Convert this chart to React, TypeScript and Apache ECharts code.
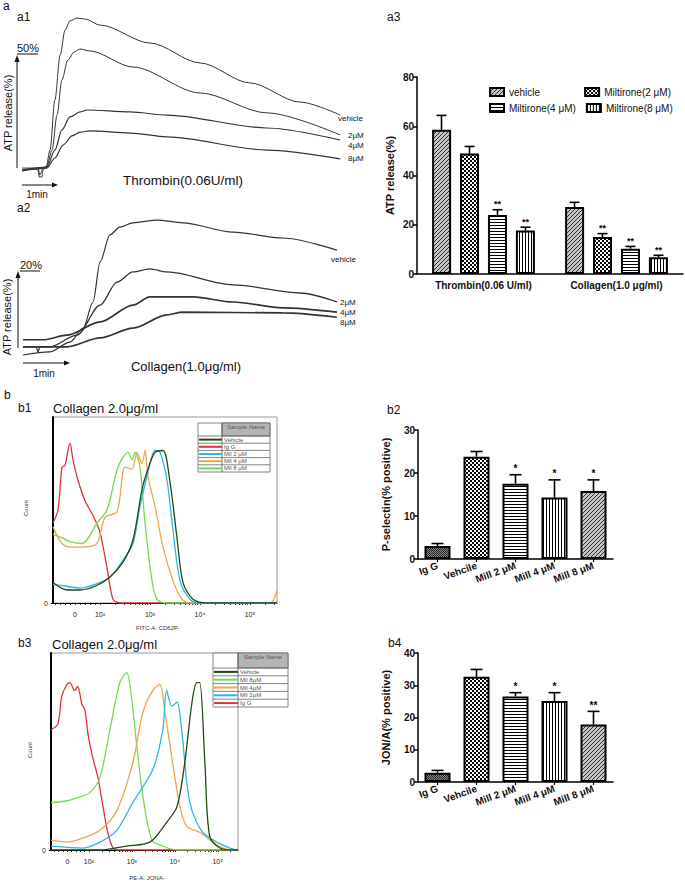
import React, { useEffect, useRef } from 'react';
import * as echarts from 'echarts';

const FONT = '"Liberation Sans", Arial, Helvetica, sans-serif';

// ---------- a1: ATP release traces, Thrombin  [time (min), release (%)]
const a1Vehicle = [[0, 0], [0.37, 0.4], [0.46, 0], [0.49, -2.9], [0.57, -2.9], [0.6, 0], [0.69, 1.2], [0.8, 8.3], [0.94, 29.2], [1.09, 47.9], [1.23, 58.3], [1.37, 62.1], [1.57, 63.3], [1.8, 62.9], [2.23, 60.4], [3.66, 52.9], [5.09, 44.6], [6.51, 36.3], [7.94, 28.3], [9.09, 22.9]];
const a1Mil2 = [[0, 0.8], [0.46, 0.8], [0.51, -2.1], [0.6, 0.8], [0.71, 1.7], [0.86, 8.3], [1.0, 22.9], [1.14, 37.5], [1.31, 45.8], [1.49, 49.2], [1.66, 50.4], [1.94, 49.6], [3.17, 42.9], [5.09, 32.1], [7.0, 23.8], [9.09, 14.6]];
const a1Mil4 = [[0, 0], [0.71, 1.2], [0.94, 8.3], [1.14, 16.7], [1.37, 22.1], [1.66, 24.2], [1.86, 25], [3.09, 24.2], [4.14, 22.9], [7.0, 17.5], [9.09, 12.5]];
const a1Mil8 = [[0, -0.4], [0.71, 0.8], [0.94, 5], [1.17, 10.4], [1.43, 14.2], [1.66, 15.8], [1.94, 16.3], [3.09, 15.4], [4.14, 13.8], [7.0, 8.3], [9.09, 4.6]];
const a1Labels = ['vehicle', '2μM', '4μM', '8μM'];

// ---------- a2: ATP release traces, Collagen
const a2Vehicle = [[0, -1.8], [0.57, -1.0], [1.0, 1.5], [1.28, 5.1], [1.49, 11.8], [1.64, 22.1], [1.85, 29], [2.06, 31], [2.34, 32.1], [2.85, 32.8], [3.4, 32.1], [4.47, 29.7], [5.53, 28.2], [6.68, 25.1]];
const a2Mil2 = [[0, 0.3], [0.28, 0.3], [0.32, -1.0], [0.36, 0.3], [0.57, 0.3], [1.15, 3.3], [1.64, 11.0], [2.0, 16.9], [2.34, 19.5], [2.7, 20.3], [3.06, 19.5], [4.47, 16.2], [5.89, 14.1], [6.68, 11.8]];
const a2Mil4 = [[0, 2.1], [0.43, 2.1], [0.94, 3.3], [1.64, 6.7], [2.34, 11.0], [2.7, 13.1], [3.62, 13.1], [4.47, 11.8], [5.53, 10.3], [6.68, 9.2]];
const a2Mil8 = [[0, 0.3], [0.94, 0.3], [1.64, 2.6], [2.34, 5.1], [3.06, 8.5], [3.4, 9.2], [5.53, 9.0], [6.68, 7.9]];

// ---------- a3: grouped bars
const a3Categories = ['Thrombin(0.06 U/ml)', 'Collagen(1.0 μg/ml)'];
const a3Series = ['vehicle', 'Miltirone(2 μM)', 'Miltirone(4 μM)', 'Miltirone(8 μM)'];
const a3Mean = [[58.6, 27.2], [48.9, 15.0], [24.0, 10.3], [17.7, 6.8]];
const a3Sem = [[5.8, 1.9], [2.9, 1.4], [2.1, 0.9], [1.3, 0.8]];
const a3Sig = [['', ''], ['', '**'], ['**', '**'], ['**', '**']];

// ---------- b2 / b4 bars
const bCategories = ['Ig G', 'Vehcile', 'Mill 2 μM', 'Mill 4 μM', 'Mill 8 μM'];
const b2Mean = [3.0, 23.8, 17.5, 14.3, 15.8];
const b2Sem = [0.6, 1.2, 2.1, 4.1, 2.6];
const b2Sig = ['', '', '*', '*', '*'];
const b4Mean = [2.9, 32.6, 26.5, 25.1, 17.8];
const b4Sem = [0.7, 2.3, 1.2, 2.6, 4.1];
const b4Sig = ['', '', '*', '*', '**'];

// ---------- b1 flow histogram (x: display decades, y: % of max)
const b1IgG = [[1.06, 43], [1.16, 50], [1.24, 73], [1.3, 74], [1.4, 86], [1.46, 77], [1.56, 66], [1.7, 55], [1.86, 47], [2.0, 38], [2.14, 19], [2.26, 2], [2.4, 0], [5.54, 0]];
const b1Mil8 = [[1.06, 37], [1.24, 35], [1.4, 33], [1.64, 32], [1.94, 43], [2.14, 50], [2.36, 73], [2.56, 81], [2.64, 77], [2.7, 81], [2.8, 73], [2.9, 43], [3.04, 12], [3.14, 2], [3.34, 0], [5.54, 0]];
const b1Mil4 = [[1.06, 41], [1.24, 32], [1.44, 30], [1.66, 30], [1.94, 32], [2.1, 46], [2.34, 49], [2.5, 73], [2.64, 72], [2.74, 81], [2.84, 75], [2.9, 82], [2.96, 68], [3.1, 52], [3.26, 30], [3.46, 12], [3.64, 2], [3.86, 0], [5.4, 0], [5.54, 7]];
const b1Mil2 = [[1.06, 10], [1.34, 9], [1.6, 8], [1.9, 10], [2.2, 14], [2.46, 23], [2.66, 32], [2.8, 52], [2.94, 68], [3.1, 82], [3.2, 81], [3.34, 66], [3.46, 39], [3.6, 12], [3.8, 2], [4.0, 0], [5.54, 0]];
const b1Vehicle = [[1.06, 11], [1.34, 7], [1.6, 7], [1.9, 9], [2.2, 14], [2.46, 22], [2.66, 34], [2.84, 61], [2.96, 72], [3.1, 81], [3.26, 82], [3.4, 65], [3.54, 35], [3.66, 11], [3.86, 2], [4.14, 0], [5.54, 0]];
const b1Legend = ['Vehicle', 'Ig G', 'Mil 2 μM', 'Mil 4 μM', 'Mil 8 μM'];

// ---------- b3 flow histogram
const b3IgG = [[1.12, 61], [1.28, 64], [1.37, 78], [1.49, 84], [1.56, 85], [1.67, 81], [1.74, 83], [1.84, 74], [1.91, 71], [1.98, 59], [2.09, 47], [2.21, 37], [2.33, 22], [2.44, 9], [2.56, 1], [2.67, 0], [5.47, 0]];
const b3Mil8 = [[1.12, 24], [1.49, 25], [1.79, 27], [2.02, 29], [2.26, 37], [2.49, 61], [2.72, 85], [2.88, 90], [3.0, 76], [3.12, 52], [3.26, 27], [3.47, 5], [3.72, 2], [4.05, 0], [5.47, 0]];
const b3Mil4 = [[1.12, 5], [1.49, 4], [1.86, 6], [2.26, 10], [2.65, 20], [3.02, 44], [3.26, 70], [3.49, 81], [3.65, 84], [3.77, 70], [3.93, 47], [4.12, 22], [4.28, 12], [4.58, 9], [4.88, 4], [5.12, 1], [5.35, 0], [5.47, 0]];
const b3Mil2 = [[1.12, 2], [1.86, 1], [2.26, 4], [2.65, 10], [3.02, 24], [3.49, 41], [3.72, 61], [3.81, 81], [3.93, 73], [4.05, 75], [4.16, 61], [4.28, 34], [4.4, 20], [4.65, 9], [4.98, 4], [5.28, 1], [5.47, 0]];
const b3Vehicle = [[1.12, 0], [2.26, 0], [2.88, 2], [3.42, 4], [3.81, 14], [4.05, 22], [4.23, 44], [4.4, 75], [4.51, 85], [4.58, 85], [4.7, 44], [4.81, 7], [5.05, 1], [5.35, 0], [5.47, 0]];
const b3Legend = ['Vehicle', 'Mil 8μM', 'Mil 4μM', 'Mil 2μM', 'Ig G'];

const flowTickLabels: Record<string, string> = { '1.5': '0', '2': '10²', '3': '10³', '4': '10⁴', '5': '10⁵' };
const flowLabelValues = [1.5, 2, 3, 4, 5];

const C = { igg: '#e0323c', mil2: '#2cb8e2', mil4: '#f0a548', mil8: '#72dc50', veh: '#1f4a16' };

function makePattern(w: number, h: number, bg: string, fg: string, cells: number[][]) {
  const c = document.createElement('canvas');
  c.width = w; c.height = h;
  const ctx = c.getContext('2d')!;
  ctx.fillStyle = bg; ctx.fillRect(0, 0, w, h);
  ctx.fillStyle = fg;
  cells.forEach(([x, y]) => ctx.fillRect(x, y, 1, 1));
  return { image: c, repeat: 'repeat' } as any;
}

function flowTicks(min: number, max: number) {
  const t: number[] = [];
  for (let v = 1.1; v < 2; v += 0.1) if (v >= min) t.push(+v.toFixed(2));
  for (let d = 2; d <= 5; d++) for (let k = 1; k <= 9; k++) { const v = d + Math.log10(k); if (v <= max) t.push(v); }
  return t;
}

function txt(text: string, x: number, y: number, size: number, opts: any = {}) {
  return {
    type: 'text', x, y, rotation: opts.rot || 0, z: 10,
    style: {
      text, font: `${opts.bold ? 'bold ' : ''}${size}px ${FONT}`, fill: opts.color || '#111',
      textAlign: opts.align || 'left', textVerticalAlign: 'middle',
    },
  };
}
function ln(x1: number, y1: number, x2: number, y2: number, w = 1, color = '#111') {
  return { type: 'line', z: 10, shape: { x1, y1, x2, y2 }, style: { stroke: color, lineWidth: w } };
}
function poly(points: number[][], color = '#111') {
  return { type: 'polygon', z: 10, shape: { points }, style: { fill: color } };
}

function legendTable(x0: number, x1: number, x2: number, y0: number, yh: number, rowH: number, names: string[], colors: string[]) {
  const els: any[] = [];
  const y1 = yh + rowH * names.length;
  els.push({ type: 'rect', z: 9, shape: { x: x0, y: y0, width: x2 - x0, height: y1 - y0 }, style: { fill: '#fff', stroke: '#666', lineWidth: 0.8 } });
  els.push({ type: 'rect', z: 9, shape: { x: x1, y: y0, width: x2 - x1, height: yh - y0 }, style: { fill: '#b4b4b4', stroke: '#666', lineWidth: 0.8 } });
  els.push(txt('Sample Name', (x1 + x2) / 2, y0 + 4, 6, { align: 'center', color: '#555' }));
  els.push(ln(x1, y0, x1, y1, 0.8, '#555'));
  names.forEach((n, i) => {
    const ry = yh + i * rowH;
    els.push(ln(x0, ry, x2, ry, 0.8, '#666'));
    els.push(ln(x0 + 1, ry + rowH / 2, x1, ry + rowH / 2, 2, colors[i]));
    els.push(txt(n, x1 + 2, ry + rowH / 2, 6, { color: '#555' }));
  });
  return els;
}

function errSeries(name: string, axis: number, data: number[][], sigOf: (d: number[]) => string, offsetOf: (d: number[]) => number, cap: number, starSize: number) {
  return {
    type: 'custom', name, xAxisIndex: axis, yAxisIndex: axis, z: 5,
    data,
    renderItem: (params: any, api: any) => {
      const d = data[params.dataIndex];
      const p0 = api.coord([d[0], d[1]]);
      const p1 = api.coord([d[0], d[2]]);
      const cx = p0[0] + offsetOf(d);
      return {
        type: 'group',
        children: [
          { type: 'line', shape: { x1: cx, y1: p0[1], x2: cx, y2: p1[1] }, style: { stroke: '#000', lineWidth: 1.6 } },
          { type: 'line', shape: { x1: cx - cap, y1: p1[1], x2: cx + cap, y2: p1[1] }, style: { stroke: '#000', lineWidth: 1.6 } },
          { type: 'text', x: cx, y: p1[1] - 1, style: { text: sigOf(d), font: `bold ${starSize}px ${FONT}`, fill: '#000', textAlign: 'center', textVerticalAlign: 'bottom' } },
        ],
      };
    },
  };
}

function buildOption() {
  const pat = {
    diag: makePattern(4, 4, '#c4c4c4', '#333', [[0, 3], [1, 2], [2, 1], [3, 0]]),
    checker: makePattern(4, 4, '#000', '#fff', [[0, 0], [1, 0], [0, 1], [1, 1], [2, 2], [3, 2], [2, 3], [3, 3]]),
    horiz: makePattern(1, 3, '#fff', '#000', [[0, 0]]),
    vert: makePattern(3, 1, '#fff', '#000', [[0, 0]]),
    dark: makePattern(2, 2, '#8a8a8a', '#222', [[0, 0], [1, 1]]),
  };
  const a3Pats = [pat.diag, pat.checker, pat.horiz, pat.vert];
  const bPats = [pat.dark, pat.checker, pat.horiz, pat.vert, pat.diag];

  const trace = (name: string, data: number[][], axis: number, w: number) => ({
    type: 'line', name, data, xAxisIndex: axis, yAxisIndex: axis, showSymbol: false, smooth: 0.3, smoothMonotone: 'x',
    lineStyle: { color: '#333', width: w }, silent: true,
  });
  const flow = (name: string, data: number[][], axis: number, color: string) => ({
    type: 'line', name, data, xAxisIndex: axis, yAxisIndex: axis, showSymbol: false, smooth: 0.3,
    lineStyle: { color, width: 1.3 }, silent: true,
  });

  const barY = (gi: number, max: number, interval: number, name: string, gap: number) => ({
    gridIndex: gi, type: 'value', min: 0, max, interval,
    name, nameLocation: 'middle', nameGap: gap, nameTextStyle: { fontFamily: FONT, fontWeight: 'bold', fontSize: 11, color: '#111' },
    axisLine: { show: true, lineStyle: { color: '#000', width: 1.5 } },
    axisTick: { show: true, length: 4, lineStyle: { color: '#000', width: 1.5 } },
    axisLabel: { fontFamily: FONT, fontWeight: 'bold', fontSize: 10, color: '#111', margin: 3 },
    splitLine: { show: false },
  });
  const bCatX = (gi: number) => ({
    gridIndex: gi, type: 'category', data: bCategories,
    axisLine: { lineStyle: { color: '#000', width: 1.5 } },
    axisTick: { show: true, alignWithLabel: true, length: 3, lineStyle: { color: '#000', width: 1.2 } },
    axisLabel: { fontFamily: FONT, fontWeight: 'bold', fontSize: 10, color: '#111', rotate: 20, interval: 0, margin: 6 },
  });
  const flowX = (gi: number, min: number, max: number) => ({
    gridIndex: gi, type: 'value', min, max,
    axisLine: { show: true, onZero: false, lineStyle: { color: '#000', width: 1 } },
    axisTick: { show: true, length: 2, customValues: flowTicks(min, max), lineStyle: { color: '#000', width: 0.8 } },
    axisLabel: { fontFamily: FONT, fontSize: 7, color: '#222', margin: 8, customValues: flowLabelValues, formatter: (v: number) => flowTickLabels[String(+v.toFixed(2))] ?? '' },
    splitLine: { show: false },
  });
  const flowY = (gi: number) => ({
    gridIndex: gi, type: 'value', min: 0, max: 100,
    axisLine: { show: true, lineStyle: { color: '#000', width: 2 } },
    axisTick: { show: true, length: 2, customValues: [0] },
    axisLabel: { fontFamily: FONT, fontSize: 7, color: '#222', margin: 5, customValues: [0] },
    splitLine: { show: false },
  });

  const a3ErrData = a3Series.flatMap((_, si) => a3Categories.map((__, ci) => [ci, a3Mean[si][ci], a3Mean[si][ci] + a3Sem[si][ci], si]));
  const b2ErrData = bCategories.map((_, i) => [i, b2Mean[i], b2Mean[i] + b2Sem[i]]);
  const b4ErrData = bCategories.map((_, i) => [i, b4Mean[i], b4Mean[i] + b4Sem[i]]);

  const graphics: any[] = [
    // a1
    txt('a', 3, 6, 12), txt('a1', 17, 17, 12),
    txt('50%', 17, 48, 11), ln(17, 54, 38, 54, 1),
    ln(17, 168, 17, 60, 1), poly([[14.5, 62], [17, 55], [19.5, 62]]),
    txt('ATP release(%)', 8, 113, 11, { rot: Math.PI / 2, align: 'center' }),
    txt('Thrombin(0.06U/ml)', 183, 180, 13.5, { align: 'center' }),
    ln(22, 185, 54, 185, 1), poly([[52, 182.5], [58, 185], [52, 187.5]]),
    txt('1min', 37, 194, 10, { align: 'center' }),
    txt(a1Labels[0], 338, 118, 8), txt(a1Labels[1], 348, 135, 8), txt(a1Labels[2], 348, 145, 8), txt(a1Labels[3], 348, 158, 8),
    // a2
    txt('a2', 17, 208, 12),
    txt('20%', 20, 265, 11), ln(20, 271, 40, 271, 1),
    ln(18, 348, 18, 276, 1), poly([[15.5, 278], [18, 271], [20.5, 278]]),
    txt('ATP release(%)', 7, 317, 11, { rot: Math.PI / 2, align: 'center' }),
    txt('Collagen(1.0μg/ml)', 186, 366, 13, { align: 'center' }),
    ln(23, 363, 66, 363, 1), poly([[64, 360.5], [70, 363], [64, 365.5]]),
    txt('1min', 44, 373, 10, { align: 'center' }),
    txt(a1Labels[0], 331, 259, 8), txt(a1Labels[1], 340, 302, 8), txt(a1Labels[2], 340, 312, 8), txt(a1Labels[3], 340, 322, 8),
    // a3 / b labels
    txt('a3', 387, 17, 12),
    txt('b', 4, 395, 12), txt('b1', 18, 408, 12), txt('Collagen 2.0μg/ml', 53, 408, 13),
    txt('b2', 387, 410, 12),
    txt('b3', 18, 643, 12), txt('Collagen 2.0μg/ml', 52, 644, 13),
    txt('b4', 388, 643, 12),
    txt('Count', 26, 508, 6, { rot: Math.PI / 2, align: 'center', color: '#333' }),
    txt('Count', 30, 750, 6, { rot: Math.PI / 2, align: 'center', color: '#333' }),
    txt('FITC-A: CD62P-', 158, 628, 6, { align: 'center', color: '#333' }),
    txt('PE-A: JONA-', 147, 878, 6, { align: 'center', color: '#333' }),
    ...legendTable(198, 222, 270, 423, 436, 7.2, b1Legend, [C.veh, C.igg, C.mil2, C.mil4, C.mil8]),
    ...legendTable(213, 238, 288, 653, 668, 7.8, b3Legend, [C.veh, C.mil8, C.mil4, C.mil2, C.igg]),
  ];

  return {
    animation: false,
    backgroundColor: '#fff',
    grid: [
      { left: 22, top: 14, width: 318, height: 168 },
      { left: 23, top: 207.6, width: 317, height: 152.1 },
      { left: 417, top: 77, width: 266, height: 197 },
      { left: 53, top: 417, width: 224, height: 186, show: true, borderColor: '#999', borderWidth: 1 },
      { left: 418, top: 430, width: 195, height: 129 },
      { left: 51, top: 653, width: 187, height: 197, show: true, borderColor: '#999', borderWidth: 1 },
      { left: 418, top: 653, width: 195, height: 129 },
    ],
    xAxis: [
      { gridIndex: 0, type: 'value', min: 0, max: 9.086, show: false },
      { gridIndex: 1, type: 'value', min: 0, max: 6.745, show: false },
      {
        gridIndex: 2, type: 'category', data: a3Categories,
        axisLine: { lineStyle: { color: '#000', width: 1.5 } }, axisTick: { show: false },
        axisLabel: { fontFamily: FONT, fontWeight: 'bold', fontSize: 10, color: '#111', margin: 6 },
      },
      flowX(3, 1.06, 5.54),
      bCatX(4),
      flowX(5, 1.12, 5.47),
      bCatX(6),
    ],
    yAxis: [
      { gridIndex: 0, type: 'value', min: -5, max: 65, show: false },
      { gridIndex: 1, type: 'value', min: -3, max: 36, show: false },
      barY(2, 80, 20, 'ATP release(%)', 22),
      flowY(3),
      barY(4, 30, 10, 'P-selectin(% positive)', 27),
      flowY(5),
      barY(6, 40, 10, 'JON/A(% positive)', 27),
    ],
    legend: [
      { data: [a3Series[0], a3Series[1]], left: 489, top: 87, padding: 0, itemGap: 44, itemWidth: 14, itemHeight: 8, icon: 'rect', selectedMode: false, textStyle: { fontFamily: FONT, fontSize: 10, color: '#111' } },
      { data: [a3Series[2], a3Series[3]], left: 489, top: 103, padding: 0, itemGap: 10, itemWidth: 14, itemHeight: 8, icon: 'rect', selectedMode: false, textStyle: { fontFamily: FONT, fontSize: 10, color: '#111' } },
    ],
    series: [
      trace('a1-vehicle', a1Vehicle, 0, 1), trace('a1-2', a1Mil2, 0, 1), trace('a1-4', a1Mil4, 0, 1.2), trace('a1-8', a1Mil8, 0, 1.2),
      trace('a2-vehicle', a2Vehicle, 1, 1.2), trace('a2-2', a2Mil2, 1, 1.3), trace('a2-4', a2Mil4, 1, 1.6), trace('a2-8', a2Mil8, 1, 1.6),
      ...a3Series.map((name, si) => ({
        type: 'bar', name, xAxisIndex: 2, yAxisIndex: 2, data: a3Mean[si], barWidth: 19, barGap: '47%',
        itemStyle: { color: a3Pats[si], borderColor: '#000', borderWidth: 2 },
      })),
      errSeries('a3-err', 2, a3ErrData, (d) => a3Sig[d[3]][d[0]], (d) => (d[3] - 1.5) * 28, 5, 9),
      flow('b1-igg', b1IgG, 3, C.igg), flow('b1-8', b1Mil8, 3, C.mil8), flow('b1-4', b1Mil4, 3, C.mil4), flow('b1-2', b1Mil2, 3, C.mil2), flow('b1-veh', b1Vehicle, 3, C.veh),
      {
        type: 'bar', name: 'P-selectin', xAxisIndex: 4, yAxisIndex: 4, barWidth: 26,
        data: b2Mean.map((v, i) => ({ value: v, itemStyle: { color: bPats[i], borderColor: '#000', borderWidth: 2 } })),
      },
      errSeries('b2-err', 4, b2ErrData, (d) => b2Sig[d[0]], () => 0, 6, 10),
      flow('b3-igg', b3IgG, 5, C.igg), flow('b3-8', b3Mil8, 5, C.mil8), flow('b3-4', b3Mil4, 5, C.mil4), flow('b3-2', b3Mil2, 5, C.mil2), flow('b3-veh', b3Vehicle, 5, C.veh),
      {
        type: 'bar', name: 'JON/A', xAxisIndex: 6, yAxisIndex: 6, barWidth: 26,
        data: b4Mean.map((v, i) => ({ value: v, itemStyle: { color: bPats[i], borderColor: '#000', borderWidth: 2 } })),
      },
      errSeries('b4-err', 6, b4ErrData, (d) => b4Sig[d[0]], () => 0, 6, 10),
    ],
    graphic: graphics,
  };
}

export default function App() {
  const ref = useRef<HTMLDivElement>(null);
  useEffect(() => {
    document.body.style.margin = '0';
    const chart = echarts.init(ref.current!, null, { renderer: 'svg' });
    chart.setOption(buildOption() as any);
    return () => chart.dispose();
  }, []);
  return <div ref={ref} style={{ width: 685, height: 884 }} />;
}
